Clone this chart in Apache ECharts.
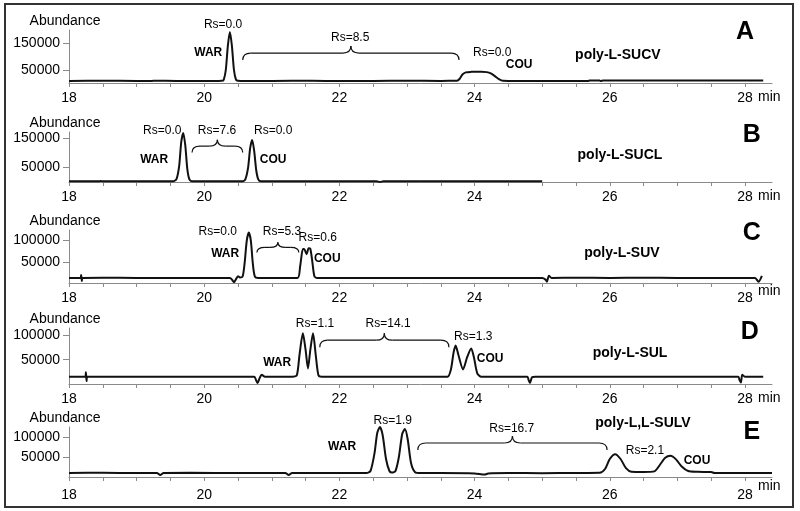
<!DOCTYPE html>
<html>
<head>
<meta charset="utf-8">
<script src="https://cdn.jsdelivr.net/npm/echarts@6/dist/echarts.min.js"></script>
<style>html,body{margin:0;padding:0;background:#fff}#c{width:800px;height:511px}</style>
</head>
<body>
<div id="c"></div>
<script>
// ---------- DATA ----------
const xTickLabels = [18, 20, 22, 24, 26, 28];
const xMinorTicks = [18,18.5,19,19.5,20,20.5,21,21.5,22,22.5,23,23.5,24,24.5,25,25.5,26,26.5,27,27.5,28];
const yTickLabelsAB = [50000, 150000];
const yTickLabelsCDE = [50000, 100000];

const traceA = [[18.0,8000],[18.5,8200],[19.0,8000],[19.2,7600],[19.25,8200],[19.6,8000],[19.9,7800],[20.2,8000],[20.26,8200],[20.29,13000],[20.32,50000],[20.35,140000],[20.38,192000],[20.41,140000],[20.44,50000],[20.47,13000],[20.50,8500],[20.54,8000],[21.0,8000],[21.6,8200],[22.0,7800],[22.5,8000],[23.0,8100],[23.5,8000],[23.74,8200],[23.78,16000],[23.82,32000],[23.87,40000],[23.95,42000],[24.1,42500],[24.18,41000],[24.24,36000],[24.3,26000],[24.36,15000],[24.42,8500],[24.5,8000],[25.0,8000],[25.5,8000],[25.68,8000],[25.7,9200],[25.85,9000],[25.87,7500],[25.9,9000],[26.5,9000],[27.0,9000],[27.5,9000],[28.0,9000],[28.27,9000]];
const traceB = [[18,2500],[18.45,2500],[18.47,3500],[18.5,2500],[19.0,2500],[19.54,2500],[19.59,10000],[19.63,55000],[19.66,135000],[19.69,167000],[19.72,125000],[19.75,45000],[19.78,10000],[19.82,2500],[20.3,2500],[20.57,2500],[20.61,10000],[20.65,50000],[20.68,115000],[20.71,143000],[20.74,105000],[20.77,40000],[20.80,9000],[20.84,2500],[21.5,2500],[22.0,2500],[22.55,2500],[22.6,0],[22.65,2500],[23.0,2500],[24.0,2500],[25.0,2500]];
const traceC = [[18.0,12000],[18.17,12000],[18.18,19000],[18.19,5000],[18.2,12000],[18.5,12500],[19.0,12000],[19.5,12000],[20.0,12000],[20.38,12000],[20.42,6000],[20.44,2000],[20.47,9000],[20.5,16000],[20.53,13000],[20.57,16000],[20.6,50000],[20.63,100000],[20.66,119000],[20.69,100000],[20.72,45000],[20.75,15000],[20.8,12000],[21.0,12000],[21.38,12000],[21.42,40000],[21.46,80000],[21.48,80000],[21.515,68000],[21.545,82000],[21.57,81000],[21.6,50000],[21.63,16000],[21.67,12000],[22.0,12000],[23.0,12000],[24.0,12000],[25.0,12000],[25.05,8000],[25.07,3000],[25.1,17000],[25.14,12000],[25.5,12500],[26.0,12000],[26.5,12500],[27.0,12000],[27.5,12000],[28.0,12000],[28.15,12000],[28.2,3000],[28.25,17000]];
const traceD = [[18.0,15000],[18.24,15000],[18.25,24000],[18.26,6000],[18.27,15000],[19.0,15000],[19.5,15000],[20.0,15000],[20.5,15000],[20.74,15000],[20.77,7000],[20.79,2000],[20.82,12000],[20.85,19000],[20.9,15000],[21.3,15000],[21.37,18000],[21.41,60000],[21.46,104000],[21.5,70000],[21.535,32000],[21.57,70000],[21.61,104000],[21.65,60000],[21.69,18000],[21.74,15000],[22.0,15000],[22.5,15000],[23.0,15000],[23.6,15000],[23.65,30000],[23.69,65000],[23.72,79000],[23.76,60000],[23.83,30000],[23.89,55000],[23.95,73000],[23.99,55000],[24.04,22000],[24.1,15000],[24.5,15000],[24.78,15000],[24.8,8000],[24.82,2000],[24.85,14000],[24.9,15000],[25.5,15000],[26.0,15000],[27.0,15000],[27.9,15000],[27.92,8000],[27.94,3000],[27.96,19000],[28.0,15000],[28.27,15000]];
const traceE = [[18.0,10000],[18.5,10500],[19.0,10000],[19.3,10000],[19.35,5000],[19.4,10000],[19.8,10500],[20.5,10000],[21.2,10000],[21.25,5000],[21.3,10000],[22.0,10000],[22.4,10000],[22.46,15000],[22.52,60000],[22.56,110000],[22.6,125000],[22.64,105000],[22.69,45000],[22.74,15000],[22.78,11000],[22.83,15000],[22.88,50000],[22.93,108000],[22.97,120000],[23.01,95000],[23.06,35000],[23.12,12000],[23.2,10000],[23.5,10000],[24.0,9000],[24.15,6000],[24.2,9000],[24.5,10000],[25.0,9500],[25.5,10000],[25.85,10500],[25.93,20000],[26.0,45000],[26.08,57000],[26.16,45000],[26.24,22000],[26.32,13000],[26.5,12500],[26.66,14000],[26.74,30000],[26.82,48000],[26.9,53000],[26.98,44000],[27.06,27000],[27.16,15000],[27.3,13000],[27.5,12500],[27.55,10000],[28.0,10000],[28.4,10000]];

// annotations: [x, y, text, kind]
const annoA = [[20.28,219000,'Rs=0.0','rs'],[20.06,113000,'WAR','cmp'],[22.16,170000,'Rs=8.5','rs'],[24.26,113000,'Rs=0.0','rs'],[24.66,68000,'COU','cmp'],[26.12,106000,'poly-L-SUCV','title'],[28.0,192000,'A','letter']];
const annoB = [[19.38,173000,'Rs=0.0','rs'],[20.19,173000,'Rs=7.6','rs'],[21.02,173000,'Rs=0.0','rs'],[19.26,75000,'WAR','cmp'],[21.02,75000,'COU','cmp'],[26.15,92000,'poly-L-SUCL','title'],[28.1,160000,'B','letter']];
const annoC = [[20.2,121000,'Rs=0.0','rs'],[21.15,121000,'Rs=5.3','rs'],[21.68,108000,'Rs=0.6','rs'],[20.31,68000,'WAR','cmp'],[21.82,57000,'COU','cmp'],[26.18,71000,'poly-L-SUV','title'],[28.1,118000,'C','letter']];
const annoD = [[21.64,123000,'Rs=1.1','rs'],[22.72,123000,'Rs=14.1','rs'],[23.98,97000,'Rs=1.3','rs'],[21.08,43000,'WAR','cmp'],[24.23,53000,'COU','cmp'],[26.3,64000,'poly-L-SUL','title'],[28.07,107000,'D','letter']];
const annoE = [[22.79,140000,'Rs=1.9','rs'],[24.55,122000,'Rs=16.7','rs'],[26.52,67000,'Rs=2.1','rs'],[22.04,75000,'WAR','cmp'],[27.29,42000,'COU','cmp'],[26.49,135000,'poly-L,L-SULV','title'],[28.1,112000,'E','letter']];

// braces: [xStart, xEnd, y]
const bracesA = [[20.57,23.77,113000]];
const bracesB = [[19.82,20.57,122000]];
const bracesC = [[20.78,21.40,84000]];
const bracesD = [[21.71,23.62,90000]];
const bracesE = [[23.16,25.96,85000]];

// ---------- LAYOUT / STYLE ----------
const FF = '"Liberation Sans", Arial, sans-serif';
const kinds = {
  rs: {fontSize: 12, fontWeight: 'normal'},
  cmp: {fontSize: 12, fontWeight: 'bold'},
  title: {fontSize: 14, fontWeight: 'bold'},
  letter: {fontSize: 25, fontWeight: 'bold'}
};
const panels = [
  {top: 30, height: 53, ymin: 0, ymax: 200000, yt: yTickLabelsAB, trace: traceA, anno: annoA, braces: bracesA, minPad: 7},
  {top: 132, height: 50, ymin: 0, ymax: 170000, yt: yTickLabelsAB, trace: traceB, anno: annoB, braces: bracesB, minPad: 7},
  {top: 230, height: 53, ymin: 0, ymax: 125000, yt: yTickLabelsCDE, trace: traceC, anno: annoC, braces: bracesC, minPad: 1},
  {top: 328, height: 56, ymin: 0, ymax: 115000, yt: yTickLabelsCDE, trace: traceD, anno: annoD, braces: bracesD, minPad: 7},
  {top: 427, height: 53, ymin: -7500, ymax: 125000, yt: yTickLabelsCDE, trace: traceE, anno: annoE, braces: bracesE, minPad: 2}
];
const axisGray = '#8a8a8a';

const grid = [], xAxis = [], yAxis = [], series = [];
panels.forEach((p, i) => {
  grid.push({left: 69, right: 28, top: p.top, height: p.height});
  xAxis.push({
    type: 'value', gridIndex: i, min: 18, max: 28.4,
    axisLine: {lineStyle: {color: axisGray, width: 1}},
    axisTick: {show: true, customValues: xMinorTicks, length: 4, lineStyle: {color: axisGray}},
    axisLabel: {customValues: xTickLabels, color: '#000', fontSize: 14, fontFamily: FF, margin: 8},
    splitLine: {show: false},
    name: 'min', nameLocation: 'end', nameGap: -14,
    nameTextStyle: {color: '#000', fontSize: 14, fontFamily: FF, verticalAlign: 'top', align: 'left', padding: [p.minPad, 0, 0, 0]}
  });
  yAxis.push({
    type: 'value', gridIndex: i, min: p.ymin, max: p.ymax,
    axisLine: {show: true, lineStyle: {color: axisGray, width: 1}},
    axisTick: {show: true, customValues: p.yt, length: 6, lineStyle: {color: axisGray}},
    axisLabel: {customValues: p.yt, formatter: v => String(v), color: '#000', fontSize: 14, fontFamily: FF, margin: 9},
    splitLine: {show: false},
    name: 'Abundance', nameLocation: 'end', nameGap: 2,
    nameTextStyle: {color: '#000', fontSize: 14, fontFamily: FF, align: 'center', verticalAlign: 'bottom', padding: [0, 8, 0, 0]}
  });
  series.push({
    type: 'line', xAxisIndex: i, yAxisIndex: i, data: p.trace, showSymbol: false, symbol: 'none',
    smooth: 0.25, lineStyle: {color: '#111', width: 2}, silent: true, animation: false, clip: false
  });
  const anno = p.anno;
  series.push({
    type: 'custom', xAxisIndex: i, yAxisIndex: i, silent: true, animation: false, clip: false, z: 10,
    data: anno.map(a => [a[0], a[1]]),
    renderItem: (params, api) => {
      const a = anno[params.dataIndex];
      const pt = api.coord([api.value(0), api.value(1)]);
      const k = kinds[a[3]];
      return {type: 'text', x: pt[0], y: pt[1], style: {text: a[2], fill: '#000', fontSize: k.fontSize, fontWeight: k.fontWeight, fontFamily: FF, align: 'center', verticalAlign: 'middle'}};
    }
  });
  const br = p.braces;
  series.push({
    type: 'custom', xAxisIndex: i, yAxisIndex: i, silent: true, animation: false, clip: false, z: 10,
    data: br.map(b => [b[0], b[2], b[1]]),
    renderItem: (params, api) => {
      const b = br[params.dataIndex];
      const p1 = api.coord([b[0], b[2]]);
      const p2 = api.coord([b[1], b[2]]);
      const y = p1[1], x1 = p1[0], x2 = p2[0], m = (x1 + x2) / 2;
      const h = Math.min(7, (x2 - x1) / 8), r = Math.min(8, (x2 - x1) / 5);
      const st = {stroke: '#111', lineWidth: 1.2, fill: null};
      return {type: 'group', children: [
        {type: 'bezierCurve', shape: {x1: x1, y1: y + h, x2: x1 + r, y2: y, cpx1: x1, cpy1: y}, style: st},
        {type: 'line', shape: {x1: x1 + r, y1: y, x2: m - r, y2: y}, style: st},
        {type: 'bezierCurve', shape: {x1: m - r, y1: y, x2: m, y2: y - h, cpx1: m, cpy1: y}, style: st},
        {type: 'bezierCurve', shape: {x1: m, y1: y - h, x2: m + r, y2: y, cpx1: m, cpy1: y}, style: st},
        {type: 'line', shape: {x1: m + r, y1: y, x2: x2 - r, y2: y}, style: st},
        {type: 'bezierCurve', shape: {x1: x2 - r, y1: y, x2: x2, y2: y + h, cpx1: x2, cpy1: y}, style: st}
      ]};
    }
  });
});

const chart = echarts.init(document.getElementById('c'), null, {renderer: 'canvas'});
chart.setOption({
  animation: false,
  backgroundColor: '#fff',
  textStyle: {fontFamily: FF},
  grid, xAxis, yAxis, series,
  graphic: [{type: 'rect', shape: {x: 5, y: 4, width: 788, height: 503}, style: {fill: 'none', stroke: '#333', lineWidth: 2}, silent: true}]
});
</script>
</body>
</html>
